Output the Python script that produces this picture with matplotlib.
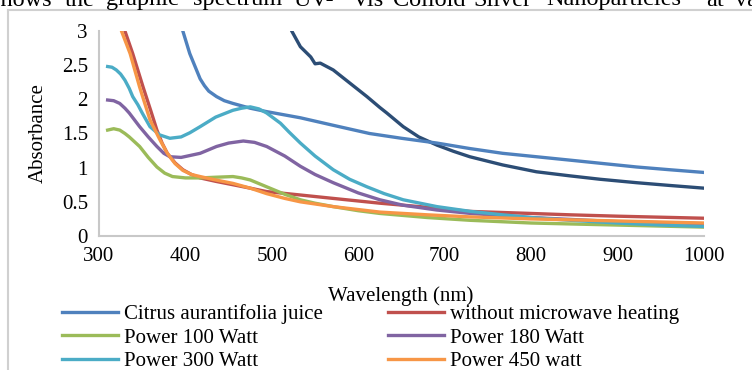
import matplotlib
matplotlib.use('Agg')
import matplotlib.pyplot as plt

plt.rcParams['font.family'] = ['Liberation Serif', 'DejaVu Serif']

# Datos (longitud de onda en nm, absorbancia)
wl_citrus = [385, 397, 405, 417, 422, 427, 436, 445, 455, 475, 494, 533, 571, 613, 650, 691, 729, 767, 806, 845, 922, 960, 1000]
ab_citrus = [3.8, 3.0, 2.67, 2.30, 2.20, 2.12, 2.04, 1.98, 1.94, 1.87, 1.82, 1.73, 1.62, 1.50, 1.43, 1.36, 1.28, 1.21, 1.16, 1.11, 1.01, 0.97, 0.93]

wl_nomw = [320, 330, 339, 351, 360, 367, 373, 379, 388, 397, 407, 417, 435, 455, 475, 494, 533, 571, 625, 680, 729, 800, 845, 900, 1000]
ab_nomw = [3.7, 3.0, 2.67, 2.18, 1.83, 1.55, 1.36, 1.21, 1.07, 0.97, 0.90, 0.85, 0.80, 0.75, 0.70, 0.65, 0.60, 0.55, 0.48, 0.42, 0.36, 0.33, 0.31, 0.29, 0.26]

wl_p100 = [310, 317, 324, 330, 335, 341, 347, 357, 367, 376, 385, 400, 417, 435, 455, 465, 475, 494, 515, 533, 550, 571, 600, 625, 680, 729, 800, 900, 1000]
ab_p100 = [1.55, 1.57, 1.55, 1.50, 1.45, 1.38, 1.31, 1.15, 1.01, 0.92, 0.87, 0.85, 0.85, 0.86, 0.87, 0.85, 0.82, 0.72, 0.61, 0.53, 0.48, 0.43, 0.37, 0.33, 0.27, 0.23, 0.19, 0.16, 0.13]

wl_p180 = [310, 317, 324, 330, 335, 341, 347, 357, 367, 375, 382, 395, 417, 436, 450, 467, 480, 494, 515, 533, 550, 571, 600, 625, 652, 691, 730, 800, 900, 1000]
ab_p180 = [1.99, 1.98, 1.94, 1.87, 1.80, 1.70, 1.60, 1.45, 1.31, 1.21, 1.16, 1.15, 1.21, 1.31, 1.36, 1.39, 1.37, 1.31, 1.17, 1.02, 0.90, 0.78, 0.63, 0.53, 0.45, 0.38, 0.33, 0.27, 0.21, 0.18]

wl_p300 = [310, 315, 320, 325, 330, 335, 339, 345, 350, 359, 370, 382, 395, 405, 417, 435, 455, 465, 475, 485, 494, 510, 520, 533, 550, 571, 590, 610, 630, 652, 691, 730, 767, 800, 845, 900, 950, 1000]
ab_p300 = [2.48, 2.47, 2.43, 2.37, 2.28, 2.16, 2.04, 1.92, 1.80, 1.60, 1.48, 1.43, 1.45, 1.51, 1.60, 1.74, 1.84, 1.87, 1.89, 1.86, 1.80, 1.65, 1.52, 1.36, 1.17, 0.97, 0.83, 0.72, 0.62, 0.53, 0.43, 0.36, 0.31, 0.27, 0.23, 0.19, 0.16, 0.14]

wl_p450 = [318, 326, 336, 347, 359, 370, 379, 388, 397, 407, 417, 435, 455, 475, 494, 515, 533, 571, 625, 680, 729, 800, 900, 1000]
ab_p450 = [3.6, 3.0, 2.67, 2.18, 1.70, 1.42, 1.21, 1.06, 0.96, 0.90, 0.87, 0.82, 0.77, 0.70, 0.62, 0.55, 0.50, 0.43, 0.35, 0.31, 0.28, 0.25, 0.22, 0.19]

# serie sin etiqueta visible (su entrada de leyenda queda fuera del recorte)
wl_s7 = [510, 523, 533, 545, 550, 556, 571, 590, 610, 625, 633, 652, 670, 691, 710, 729, 767, 806, 845, 880, 922, 960, 1000]
ab_s7 = [3.4, 3.0, 2.77, 2.62, 2.52, 2.53, 2.43, 2.24, 2.04, 1.88, 1.80, 1.60, 1.45, 1.33, 1.24, 1.16, 1.04, 0.94, 0.88, 0.83, 0.78, 0.74, 0.70]

x_ticks = [300, 400, 500, 600, 700, 800, 900, 1000]
y_ticks = [0, 0.5, 1, 1.5, 2, 2.5, 3]
y_ticklabels = ['0', '0.5', '1', '1.5', '2', '2.5', '3']

# texto del documento encima del grafico (justificado, cortado por arriba)
top_words = ['shows', 'the', 'graphic', 'spectrum', 'UV-', 'Vis', 'Colloid', 'Silver', 'Nanoparticles', 'at', 'various']
top_word_x = [-9, 65, 106, 193, 294, 352, 393, 473, 546, 706, 735]

fig = plt.figure(figsize=(7.52, 3.70), dpi=100)
ax = fig.add_axes([99 / 752, 1 - 236 / 370, 605 / 752, 205 / 370])

lw = 2.4
ax.plot(wl_s7, ab_s7, color='#2C4D75', lw=lw, label='_nolegend_')
l1, = ax.plot(wl_citrus, ab_citrus, color='#4F81BD', lw=lw)
l2, = ax.plot(wl_nomw, ab_nomw, color='#C0504D', lw=lw)
l3, = ax.plot(wl_p100, ab_p100, color='#9BBB59', lw=lw)
l4, = ax.plot(wl_p180, ab_p180, color='#8064A2', lw=lw)
l5, = ax.plot(wl_p300, ab_p300, color='#4BACC6', lw=lw)
l6, = ax.plot(wl_p450, ab_p450, color='#F79646', lw=lw)

ax.set_xlim(300, 1000)
ax.set_ylim(0, 3)
ax.set_xticks(x_ticks)
ax.set_yticks(y_ticks)
ax.set_yticklabels(y_ticklabels)
ax.tick_params(length=0, labelsize=15, pad=8)
for s in ['top', 'right']:
    ax.spines[s].set_visible(False)
for s in ['left', 'bottom']:
    ax.spines[s].set_color('#C8C8C8')
    ax.spines[s].set_linewidth(1.5)

ax.set_ylabel('Absorbance', fontsize=15, labelpad=10)
fig.text(401 / 752, 1 - 296 / 370, 'Wavelength (nm)', ha='center', va='center', fontsize=15)

# orden por filas, como en Excel
handles = [l1, l3, l5, l2, l4, l6]
labels = ['Citrus aurantifolia juice', 'Power 100 Watt', 'Power 300 Watt',
          'without microwave heating', 'Power 180 Watt', 'Power 450 watt']
fig.legend(handles, labels, ncol=2, loc='upper left', bbox_to_anchor=(62 / 752, 1 - 304 / 370),
           frameon=False, fontsize=15, handlelength=2.7, handletextpad=0.3,
           columnspacing=3.1, labelspacing=0.2, borderpad=0, borderaxespad=0)

# borde del grafico
fig.add_artist(plt.Line2D([8 / 752, 8 / 752], [0, 1 - 10 / 370], transform=fig.transFigure, color='#D0D0D0', lw=1.5))
fig.add_artist(plt.Line2D([8 / 752, 1], [1 - 10 / 370, 1 - 10 / 370], transform=fig.transFigure, color='#D0D0D0', lw=1.5))
for w, x in zip(top_words, top_word_x):
    fig.text(x / 752, 1 - 5.5 / 370, w, ha='left', va='baseline', fontsize=17.5)

fig.savefig('out.png', dpi=100)
